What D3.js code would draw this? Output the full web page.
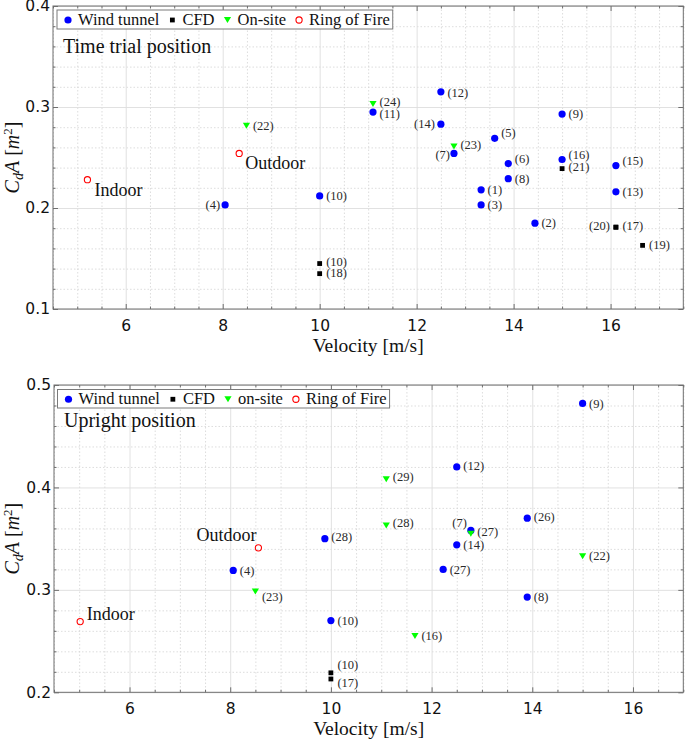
<!DOCTYPE html>
<html><head><meta charset="utf-8">
<script src="https://cdn.jsdelivr.net/npm/d3@7"></script>
<style>
body{margin:0;background:#fff;}
svg{display:block;}
</style></head>
<body>
<svg id="chart" width="685" height="740"></svg>
<script>
// ---------------- DATA ----------------
const xTicks = [6, 8, 10, 12, 14, 16];
const ttYTicks = [0.1, 0.2, 0.3, 0.4];
const upYTicks = [0.2, 0.3, 0.4, 0.5];
const legendLabelsTT = ["Wind tunnel", "CFD", "On-site", "Ring of Fire"];
const legendLabelsUP = ["Wind tunnel", "CFD", "on-site", "Ring of Fire"];

// Time trial position
const ttWindV   = [13.33, 14.44, 13.33, 8.05, 13.61, 13.89, 12.77, 13.89, 15.0, 10.0, 11.1, 12.5, 16.11, 12.5, 16.11, 15.0];
const ttWindCdA = [0.218, 0.185, 0.203, 0.203, 0.269, 0.244, 0.254, 0.229, 0.293, 0.212, 0.295, 0.315, 0.216, 0.283, 0.242, 0.248];
const ttWindLbl = ["(1)","(2)","(3)","(4)","(5)","(6)","(7)","(8)","(9)","(10)","(11)","(12)","(13)","(14)","(15)","(16)"];
const ttCfdV    = [10.0, 10.0, 16.11, 16.11, 16.66, 15.0];
const ttCfdCdA  = [0.145, 0.135, 0.181, 0.181, 0.163, 0.239];
const ttCfdLbl  = ["(10)","(18)","(17)","(20)","(19)","(21)"];
const ttSiteV   = [8.49, 12.77, 11.1];
const ttSiteCdA = [0.2815, 0.261, 0.303];
const ttSiteLbl = ["(22)","(23)","(24)"];
const ttRingV   = [5.21, 8.34];
const ttRingCdA = [0.228, 0.254];
const ttRingLbl = ["Indoor","Outdoor"];

// Upright position
const upWindV   = [8.06, 12.78, 13.9, 15.0, 10.0, 12.5, 12.5, 13.9, 12.23, 9.88];
const upWindCdA = [0.319, 0.358, 0.293, 0.482, 0.270, 0.420, 0.344, 0.370, 0.320, 0.350];
const upWindLbl = ["(4)","(7)","(8)","(9)","(10)","(12)","(14)","(26)","(27)","(28)"];
const upCfdV    = [10.0, 10.0];
const upCfdCdA  = [0.219, 0.213];
const upCfdLbl  = ["(10)","(17)"];
const upSiteV   = [11.67, 15.0, 8.5, 12.78, 11.1, 11.1];
const upSiteCdA = [0.255, 0.333, 0.2985, 0.355, 0.363, 0.408];
const upSiteLbl = ["(16)","(22)","(23)","(27)","(28)","(29)"];
const upRingV   = [5.02, 8.56];
const upRingCdA = [0.269, 0.341];
const upRingLbl = ["Indoor","Outdoor"];

// ---------------- LAYOUT / STYLE ----------------
const COL = {wind:"#0000ff", cfd:"#000000", site:"#00ff00", ring:"#ff0000"};
const SERIF = "'Liberation Serif', 'Times New Roman', serif";
const SANS = "'DejaVu Sans', sans-serif";

// label placement tweaks (layout only)
const ttPlace = {
  "wind:(14)": {anchor:"end", dx:-6},
  "wind:(7)": {anchor:"end", dx:-4, dy:1},
  "wind:(4)": {anchor:"end", dx:-5},
  "wind:(5)": {dy:-5},
  "wind:(6)": {dy:-5},
  "wind:(16)": {dy:-5},
  "wind:(15)": {dy:-5},
  "wind:(12)": {dy:1},
  "wind:(11)": {dy:1.5},
  "site:(23)": {dy:-2},
  "site:(24)": {dy:-2},
  "cfd:(21)": {dy:-2},
  "cfd:(20)": {anchor:"end", dx:-6, dy:-1},
  "cfd:(17)": {dy:-1},
  "cfd:(10)": {dy:-1.5},
  "cfd:(18)": {dy:-1},
  "ring:Indoor": {dx:7, base:16, big:true},
  "ring:Outdoor": {dx:6, base:16, big:true}
};
const upPlace = {
  "wind:(7)": {anchor:"end", dx:-4, dy:-8},
  "site:(23)": {dy:5},
  "site:(27)": {dy:-1.5},
  "site:(28)": {dy:-2},
  "site:(29)": {dy:-2},
  "wind:(26)": {dy:-1.5},
  "wind:(12)": {dy:-1.5},
  "wind:(28)": {dy:-1.5},
  "cfd:(10)": {dy:-7.5},
  "cfd:(17)": {dy:4},
  "ring:Indoor": {dx:6.5, base:-2, big:true},
  "ring:Outdoor": {anchor:"end", dx:-2, base:-7, big:true}
};

const svg = d3.select("#chart");

function zip(v, c, l) { return v.map((d, i) => ({v: d, c: c[i], l: l[i]})); }

function drawChart(cfg) {
  const {top, bottom, left, right, xDom, yDom, yTicks, series, place, legend, legendBox, title, titleY} = cfg;
  const x = d3.scaleLinear().domain(xDom).range([left, right]);
  const y = d3.scaleLinear().domain(yDom).range([bottom, top]);
  const H = bottom - top, W = right - left;
  const g = svg.append("g");

  const xMinor = d3.range(xDom[0], xDom[1] + 1e-9, 0.5).filter(v => !xTicks.includes(v));
  const yMinor = d3.range(yDom[0], yDom[1] + 1e-9, 0.02).map(v => +v.toFixed(3)).filter(v => !yTicks.some(t => Math.abs(t - v) < 1e-6));

  // minor grid
  const gm1 = g.append("g").attr("transform", `translate(0,${top})`)
    .call(d3.axisBottom(x).tickValues(xMinor).tickSize(H).tickFormat(""));
  const gm2 = g.append("g").attr("transform", `translate(${left},0)`)
    .call(d3.axisRight(y).tickValues(yMinor).tickSize(W).tickFormat(""));
  [gm1, gm2].forEach(s => { s.select(".domain").remove();
    s.selectAll("line").attr("stroke", "#d4d4d4").attr("stroke-width", 0.8).attr("stroke-dasharray", "1.5,2"); });
  // major grid
  const gM1 = g.append("g").attr("transform", `translate(0,${top})`)
    .call(d3.axisBottom(x).tickValues(xTicks).tickSize(H).tickFormat(""));
  const gM2 = g.append("g").attr("transform", `translate(${left},0)`)
    .call(d3.axisRight(y).tickValues(yTicks).tickSize(W).tickFormat(""));
  [gM1, gM2].forEach(s => { s.select(".domain").remove();
    s.selectAll("line").attr("stroke", "#dedede").attr("stroke-width", 0.9); });

  // frame
  g.append("rect").attr("x", left).attr("y", top).attr("width", W).attr("height", H)
    .attr("fill", "none").attr("stroke", "#6e6e6e").attr("stroke-width", 1);

  // inward ticks on all four sides (major and minor)
  const sides = [
    [() => d3.axisTop(x), `translate(0,${bottom})`, xTicks, xMinor],
    [() => d3.axisBottom(x), `translate(0,${top})`, xTicks, xMinor],
    [() => d3.axisRight(y), `translate(${left},0)`, yTicks, yMinor],
    [() => d3.axisLeft(y), `translate(${right},0)`, yTicks, yMinor]
  ];
  sides.forEach(([mk, tr, maj, min]) => {
    [[maj, 5], [min, 2.5]].forEach(([vals, len]) => {
      const a = g.append("g").attr("transform", tr).call(mk().tickValues(vals).tickSize(len).tickFormat(""));
      a.select(".domain").remove();
      a.selectAll("line").attr("stroke", "#6e6e6e");
    });
  });

  // tick labels
  const xl = g.append("g").attr("transform", `translate(0,${bottom})`)
    .call(d3.axisBottom(x).tickValues(xTicks).tickSize(0).tickPadding(11).tickFormat(d3.format("d")));
  const yl = g.append("g").attr("transform", `translate(${left},0)`)
    .call(d3.axisLeft(y).tickValues(yTicks).tickSize(0).tickPadding(3).tickFormat(d3.format(".1f")));
  [xl, yl].forEach(s => { s.select(".domain").remove();
    s.selectAll("text").attr("font-family", SANS).attr("font-size", "15.5px").attr("fill", "#111"); });

  // axis titles
  g.append("text").attr("x", (left + right) / 2).attr("y", bottom + 43)
    .attr("text-anchor", "middle").attr("font-family", SERIF).attr("font-size", "19.5px").attr("fill", "#111")
    .text("Velocity [m/s]");
  const yt = g.append("text").attr("transform", `translate(19,${(top + bottom) / 2}) rotate(-90)`)
    .attr("text-anchor", "middle").attr("font-family", SERIF).attr("font-size", "20px").attr("fill", "#111");
  yt.append("tspan").attr("font-style", "italic").text("C");
  yt.append("tspan").attr("font-style", "italic").attr("font-size", "14px").attr("dy", 4).text("d");
  yt.append("tspan").attr("font-style", "italic").attr("dy", -4).text("A");
  yt.append("tspan").text(" [");
  yt.append("tspan").attr("font-style", "italic").text("m");
  yt.append("tspan").attr("font-size", "13px").attr("dy", -7).text("2");
  yt.append("tspan").attr("dy", 7).text("]");

  // markers
  const symbol = {
    wind: s => s.append("circle").attr("r", 3.6).attr("fill", COL.wind),
    cfd: s => s.append("rect").attr("x", -2.4).attr("y", -2.4).attr("width", 4.8).attr("height", 4.8).attr("fill", COL.cfd),
    site: s => s.append("path").attr("d", "M-3.6,-2.9L3.6,-2.9L0,3.1Z").attr("fill", COL.site),
    ring: s => s.append("circle").attr("r", 3.1).attr("fill", "none").attr("stroke", COL.ring).attr("stroke-width", 1.1)
  };
  ["wind", "cfd", "site", "ring"].forEach(k => {
    const sel = g.append("g").selectAll("g").data(series[k]).join("g")
      .attr("transform", d => `translate(${x(d.v)},${y(d.c)})`);
    symbol[k](sel);
  });

  // point labels
  ["wind", "cfd", "site", "ring"].forEach(k => {
    series[k].forEach(d => {
      const p = place[`${k}:${d.l}`] || {};
      const big = !!p.big;
      const t = g.append("text")
        .attr("x", x(d.v) + (p.dx !== undefined ? p.dx : 6.5))
        .attr("text-anchor", p.anchor || "start")
        .attr("font-family", SERIF)
        .attr("font-size", big ? "18px" : "12.5px")
        .attr("fill", big ? "#111" : "#2a2a2a")
        .text(d.l);
      if (p.base !== undefined) t.attr("y", y(d.c) + p.base);
      else t.attr("y", y(d.c) + (p.dy || 0)).attr("dy", "0.33em");
    });
  });

  // legend
  const lg = g.append("g");
  const box = lg.append("rect").attr("x", legendBox.x).attr("y", legendBox.y)
    .attr("height", legendBox.h).attr("fill", "#fff").attr("stroke", "#7a7a7a").attr("stroke-width", 1);
  let cx = legendBox.x + 11;
  const my = legendBox.y + legendBox.h / 2 + 0.5;
  ["wind", "cfd", "site", "ring"].forEach((k, i) => {
    const m = lg.append("g").attr("transform", `translate(${cx},${my})`);
    symbol[k](m);
    const t = lg.append("text").attr("x", cx + 10).attr("y", legendBox.y + legendBox.h - 4.5)
      .attr("font-family", SERIF).attr("font-size", "16.5px").attr("fill", "#111").text(legend[i]);
    const w = t.node().getComputedTextLength();
    cx = cx + 10 + w + 13;
  });
  box.attr("width", cx - 13 + 3 - legendBox.x);

  // title annotation
  g.append("text").attr("x", left + 10).attr("y", titleY)
    .attr("font-family", SERIF).attr("font-size", "20px").attr("fill", "#111").text(title);
}

drawChart({
  top: 6, bottom: 309, left: 53, right: 683.3,
  xDom: [4.5, 17.5], yDom: [0.1, 0.4], yTicks: ttYTicks,
  series: {
    wind: zip(ttWindV, ttWindCdA, ttWindLbl),
    cfd: zip(ttCfdV, ttCfdCdA, ttCfdLbl),
    site: zip(ttSiteV, ttSiteCdA, ttSiteLbl),
    ring: zip(ttRingV, ttRingCdA, ttRingLbl)
  },
  place: ttPlace, legend: legendLabelsTT,
  legendBox: {x: 57, y: 10, h: 19},
  title: "Time trial position", titleY: 53
});

drawChart({
  top: 385, bottom: 692.3, left: 54, right: 683.3,
  xDom: [4.5, 17], yDom: [0.2, 0.5], yTicks: upYTicks,
  series: {
    wind: zip(upWindV, upWindCdA, upWindLbl),
    cfd: zip(upCfdV, upCfdCdA, upCfdLbl),
    site: zip(upSiteV, upSiteCdA, upSiteLbl),
    ring: zip(upRingV, upRingCdA, upRingLbl)
  },
  place: upPlace, legend: legendLabelsUP,
  legendBox: {x: 57.5, y: 389.5, h: 18.5},
  title: "Upright position", titleY: 427
});
</script>
</body></html>
